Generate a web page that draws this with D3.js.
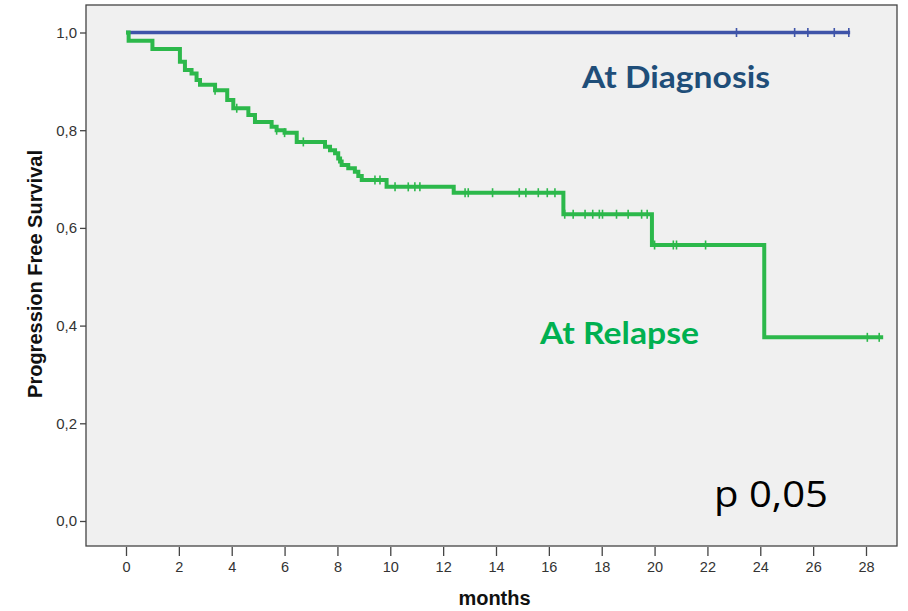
<!DOCTYPE html>
<html><head><meta charset="utf-8">
<script src="https://cdn.jsdelivr.net/npm/d3@7"></script>
<style>body{margin:0;background:#fff}svg{display:block}</style>
</head><body>
<svg id="c" width="908" height="611"></svg>
<script>
// ---- data ----
const xTicks = [0,2,4,6,8,10,12,14,16,18,20,22,24,26,28];
const yTicks = [0,0.2,0.4,0.6,0.8,1.0];
const diagTimes = [0, 27.4];
const diagSurv = [1.0, 1.0];
const diagCensor = [23.1, 25.3, 25.8, 26.8, 27.35];
const relTimes = [0, 0.1, 1.0, 2.04, 2.23, 2.48, 2.67, 2.80, 3.37, 3.83, 4.06, 4.63, 4.88, 5.51, 5.7, 6.0, 6.46, 7.53, 7.72, 7.91, 8.03, 8.10, 8.16, 8.41, 8.66, 8.79, 8.92, 9.86, 12.4, 16.55, 19.9, 24.15];
const relSurv = [1.0, 0.983, 0.966, 0.940, 0.923, 0.916, 0.903, 0.893, 0.882, 0.862, 0.845, 0.831, 0.817, 0.807, 0.800, 0.795, 0.776, 0.766, 0.759, 0.753, 0.742, 0.736, 0.729, 0.722, 0.715, 0.706, 0.698, 0.684, 0.672, 0.628, 0.565, 0.376];
const relEnd = 28.65;
const relCensor = [3.37, 4.19, 5.7, 6.0, 6.71, 9.42, 9.61, 10.18, 10.68, 10.93, 11.12, 12.83, 12.95, 13.87, 14.88, 15.13, 15.6, 15.94, 16.23, 16.6, 16.92, 17.37, 17.66, 17.91, 18.03, 18.56, 19.0, 19.51, 19.72, 20.0, 20.71, 20.83, 21.93, 28.05, 28.5];

// ---- layout ----
const svg = d3.select("#c");
const frame = {l:86, t:5, r:897, b:546};
const x = d3.scaleLinear().domain([0,28]).range([126,866]);
const y = d3.scaleLinear().domain([0,1]).range([521,32.5]);

svg.append("rect").attr("x",frame.l).attr("y",frame.t)
  .attr("width",frame.r-frame.l).attr("height",frame.b-frame.t)
  .attr("fill","#f0f0f0").attr("stroke","#444").attr("stroke-width",1.3);

// axes
const yAxis = d3.axisLeft(y).tickValues(yTicks).tickSize(6).tickPadding(3)
  .tickFormat(d=>d3.format(".1f")(d).replace(".",","));
const gy = svg.append("g").attr("transform",`translate(${frame.l},0)`).call(yAxis);
gy.select(".domain").remove();
gy.selectAll("line").attr("stroke","#444").attr("stroke-width",1.3);
gy.selectAll("text").attr("font-family","Liberation Sans, Arial, sans-serif").attr("font-size",15).attr("fill","#333");

const xAxis = d3.axisBottom(x).tickValues(xTicks).tickSize(9).tickPadding(6).tickFormat(d3.format("d"));
const gx = svg.append("g").attr("transform",`translate(0,${frame.b+1})`).call(xAxis);
gx.select(".domain").remove();
gx.selectAll("line").attr("stroke","#444").attr("stroke-width",1.3);
gx.selectAll("text").attr("font-family","Liberation Sans, Arial, sans-serif").attr("font-size",14.5).attr("fill","#333");

svg.append("text").attr("x",494.5).attr("y",605).attr("text-anchor","middle")
  .attr("font-family","Liberation Sans, Arial, sans-serif").attr("font-weight","bold").attr("font-size",20).attr("fill","#111")
  .text("months");
svg.append("text").attr("transform","translate(42,274) rotate(-90)").attr("text-anchor","middle")
  .attr("font-family","Liberation Sans, Arial, sans-serif").attr("font-weight","bold").attr("font-size",20).attr("fill","#111")
  .text("Progression Free Survival");

// step helpers
function stepPts(times, surv, end){
  const pts = [];
  for(let i=0;i<times.length;i++){
    if(i>0) pts.push([times[i], surv[i-1]]);
    pts.push([times[i], surv[i]]);
  }
  pts.push([end, surv[surv.length-1]]);
  return pts;
}
function survAt(times, surv, t){
  let v = surv[0];
  for(let i=0;i<times.length;i++){ if(times[i]<=t) v = surv[i]; }
  return v;
}
const line = d3.line().x(d=>x(d[0])).y(d=>y(d[1]));

function drawCurve(times, surv, end, censor, color, width){
  svg.append("path").datum(stepPts(times,surv,end)).attr("d",line)
    .attr("fill","none").attr("stroke",color).attr("stroke-width",width).attr("stroke-linejoin","miter");
  svg.append("g").selectAll("line").data(censor).join("line")
    .attr("x1",d=>x(d)).attr("x2",d=>x(d))
    .attr("y1",d=>y(survAt(times,surv,d))-4.5).attr("y2",d=>y(survAt(times,surv,d))+4.5)
    .attr("stroke",color).attr("stroke-width",1.6);
}
drawCurve(diagTimes, diagSurv, diagTimes[1], diagCensor, "#3f54a9", 3.5);
drawCurve(relTimes, relSurv, relEnd, relCensor, "#2cb84b", 4);

// annotations
svg.append("text").attr("x",582).attr("y",88).attr("font-family","Lato, sans-serif").attr("font-weight","bold")
  .attr("font-size",30).attr("textLength",188).attr("lengthAdjust","spacingAndGlyphs").attr("fill","#1f4e79").text("At Diagnosis");
svg.append("text").attr("x",540).attr("y",344).attr("font-family","Lato, sans-serif").attr("font-weight","bold")
  .attr("font-size",30).attr("textLength",159).attr("lengthAdjust","spacingAndGlyphs").attr("fill","#00b050").text("At Relapse");
svg.append("text").attr("x",714).attr("y",507).attr("font-family","Open Sans, sans-serif")
  .attr("font-size",36).attr("textLength",114).attr("lengthAdjust","spacingAndGlyphs").attr("fill","#000").text("p 0,05");
</script>
</body></html>
